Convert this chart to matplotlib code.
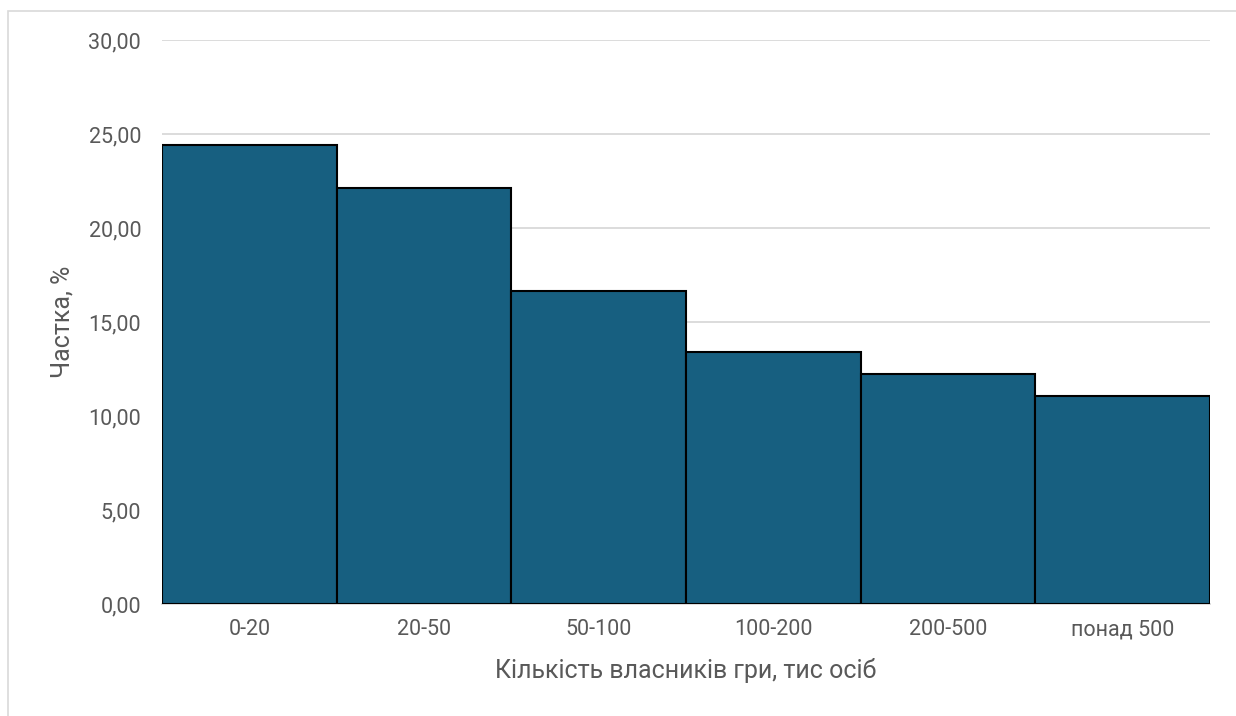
import matplotlib
matplotlib.use("Agg")
import matplotlib.pyplot as plt
from matplotlib.patches import Rectangle
from matplotlib.ticker import FuncFormatter, MultipleLocator

categories = ["0-20", "20-50", "50-100", "100-200", "200-500", "понад 500"]
shares = [24.41, 22.11, 16.63, 13.42, 12.25, 11.05]

plt.rcParams['font.family'] = ['Roboto', 'DejaVu Sans']

fig = plt.figure(figsize=(12.36, 7.16), dpi=100)
ax = fig.add_axes([162 / 1236, 1 - 604 / 716, (1210 - 162) / 1236, (604 - 40) / 716])

text_color = "#595959"
ax.bar(range(len(categories)), shares, width=1.0, color="#175F80",
       edgecolor="black", linewidth=1.5, zorder=3)

ax.set_xlim(-0.5, len(categories) - 0.5)
ax.set_ylim(0, 30)
ax.yaxis.set_major_locator(MultipleLocator(5))
ax.yaxis.set_major_formatter(FuncFormatter(lambda v, _: f"{v:.2f}".replace(".", ",")))
ax.grid(axis="y", color="#d9d9d9", linewidth=1.3, zorder=0)
ax.set_xticks(range(len(categories)))
ax.set_xticklabels(categories)

for s in ["top", "right", "left"]:
    ax.spines[s].set_visible(False)
ax.spines["bottom"].set_color("#d9d9d9")
ax.spines["bottom"].set_linewidth(1.3)
ax.tick_params(length=0, labelsize=15.5, labelcolor=text_color)
ax.tick_params(axis="y", pad=15)
ax.tick_params(axis="x", pad=11)

ax.set_ylabel("Частка, %", fontsize=18, color=text_color, labelpad=10)
ax.set_xlabel("Кількість власників гри, тис осіб", fontsize=18, color=text_color, labelpad=13)

fig.patches.append(Rectangle((8 / 1236, -0.01), 1.02, 1 - 11 / 716 + 0.01,
                             transform=fig.transFigure, fill=False,
                             edgecolor="#d9d9d9", linewidth=1.2))

fig.savefig("out.png", dpi=100)
